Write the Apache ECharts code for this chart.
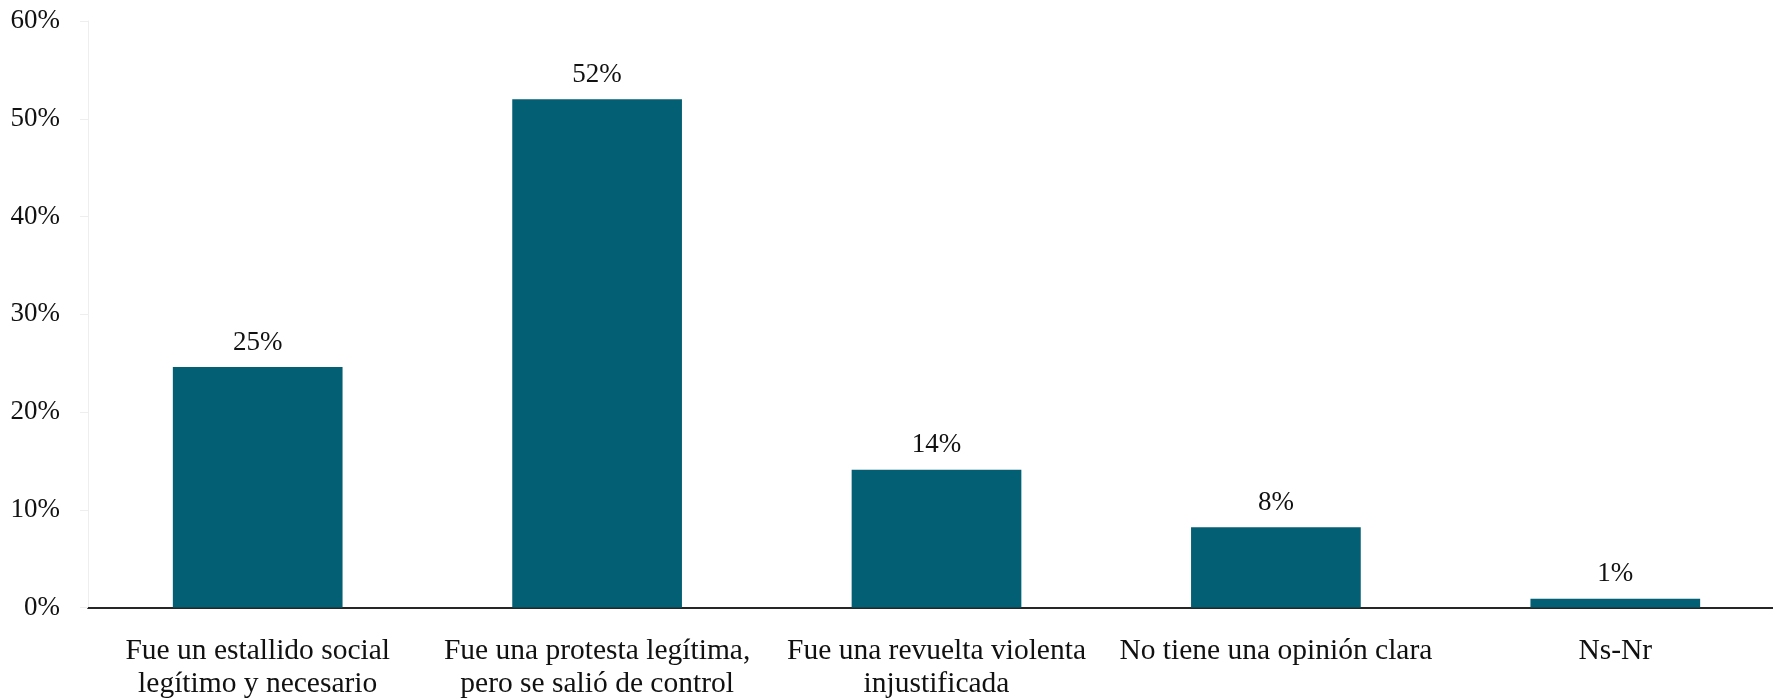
<!DOCTYPE html>
<html>
<head>
<meta charset="utf-8">
<script src="https://cdn.jsdelivr.net/npm/echarts@6/dist/echarts.min.js"></script>
<style>
html,body{margin:0;padding:0;background:#fff;}
#chart{width:1773px;height:698px;}
</style>
</head>
<body>
<div id="chart"></div>
<script>
var categories = [
  "Fue un estallido social\nlegítimo y necesario",
  "Fue una protesta legítima,\npero se salió de control",
  "Fue una revuelta violenta\ninjustificada",
  "No tiene una opinión clara",
  "Ns-Nr"
];
var values = [24.6, 52.0, 14.1, 8.2, 0.9];
var yTicks = [0, 10, 20, 30, 40, 50, 60];

var FONT = '"Liberation Serif", "DejaVu Serif", serif';
var chart = echarts.init(document.getElementById('chart'));
chart.setOption({
  backgroundColor: '#ffffff',
  animation: false,
  textStyle: { fontFamily: FONT },
  grid: { left: 88, right: -12, top: 21, bottom: 90.5, containLabel: false, outerBoundsMode: 'none' },
  xAxis: {
    type: 'category',
    data: categories,
    axisLine: { show: true, lineStyle: { color: '#262626', width: 2 } },
    axisTick: { show: false },
    axisLabel: {
      interval: 0,
      margin: 27,
      fontFamily: FONT,
      fontSize: 29.5,
      lineHeight: 33,
      color: '#111111'
    },
    splitLine: { show: false }
  },
  yAxis: {
    type: 'value',
    min: yTicks[0],
    max: yTicks[yTicks.length - 1],
    interval: 10,
    axisLine: { show: true, lineStyle: { color: '#eeeeee', width: 1 } },
    axisTick: { show: true, length: 8, lineStyle: { color: '#eeeeee' } },
    axisLabel: {
      margin: 28,
      fontFamily: FONT,
      fontSize: 27,
      color: '#111111',
      formatter: '{value}%'
    },
    splitLine: { show: false }
  },
  series: [{
    type: 'bar',
    data: values,
    barWidth: '50%',
    itemStyle: { color: '#025F74' },
    label: {
      show: true,
      position: 'top',
      distance: 11,
      fontFamily: FONT,
      fontSize: 27,
      color: '#111111',
      formatter: function (p) { return Math.round(p.value) + '%'; }
    }
  }]
});
</script>
</body>
</html>
